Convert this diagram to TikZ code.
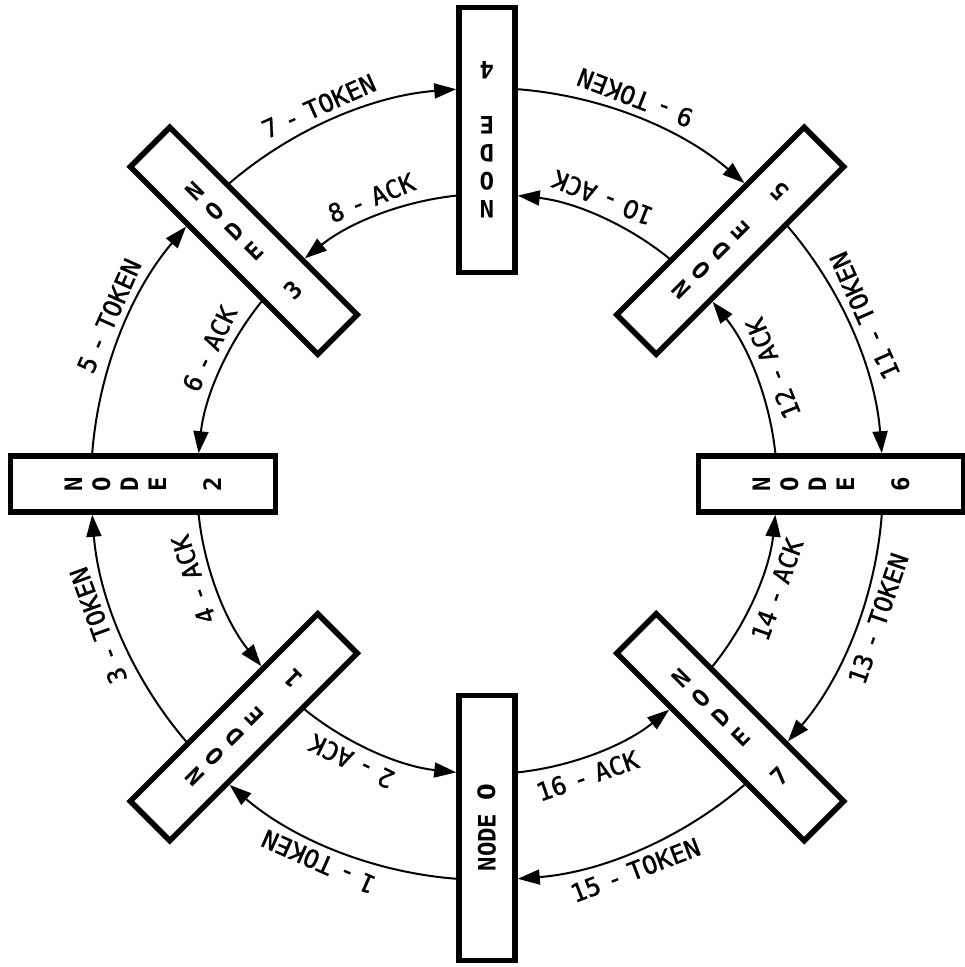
\documentclass[tikz,border=0pt]{standalone}
\usepackage{fontspec}
\newfontfamily\labfont[FakeBold=1.2]{DejaVu Sans Mono}
\newfontfamily\nodefont{DejaVu Sans Mono Bold}
\newfontfamily\lzerofont[FakeBold=1.2]{DejaVu Sans}
\newfontfamily\nzerofont{DejaVu Sans Bold}
\usetikzlibrary{arrows.meta}
\newcommand\dsh{\hspace{8pt}-\hspace{8pt}}
\newcommand\lzro{\makebox[0.602em]{\lzerofont 0}}
\newcommand\nzro{\makebox[0.602em]{\nzerofont 0}}
\begin{document}
\begin{tikzpicture}[x=1pt,y=1pt,
  nodebox/.style={draw, line width=5.5pt, minimum width=56pt, minimum height=265pt, inner sep=0pt, align=center, font=\nodefont\fontsize{24}{28}\selectfont},
  conn/.style={line width=2pt, -{Triangle[length=22pt,width=15pt]}},
  lab/.style={inner sep=0pt, font=\labfont\fontsize{25}{28}\selectfont},
  labL/.style={lab, rotate=#1-90, anchor=south},
  labR/.style={lab, rotate=#1+90, anchor=north}]
\useasboundingbox (-487,-483) rectangle (478,484);
% nodes
\node[nodebox, rotate=90, minimum width=265pt, minimum height=56pt] (n0) at (270:344) {NODE \nzro};
\node[nodebox, rotate=135] (n1) at (225:344) {N\\O\\D\\E\\[27pt]1};
\node[nodebox, rotate=90]  (n2) at (180:344) {N\\O\\D\\E\\[27pt]2};
\node[nodebox, rotate=45]  (n3) at (135:344) {N\\O\\D\\E\\[27pt]3};
\node[nodebox, rotate=180] (n4) at (90:344)  {N\\O\\D\\E\\[27pt]4};
\node[nodebox, rotate=135] (n5) at (45:344)  {N\\O\\D\\E\\[27pt]5};
\node[nodebox, rotate=90]  (n6) at (0:344)   {N\\O\\D\\E\\[27pt]6};
\node[nodebox, rotate=45]  (n7) at (-45:344) {N\\O\\D\\E\\[27pt]7};
% connectors
\pgfmathsetmacro{\dT}{asin(30.75/396)}
\pgfmathsetmacro{\dA}{asin(30.75/290)}
\foreach \k in {0,...,7} {
  \pgfmathsetmacro{\ts}{270-45*\k-\dT}
  \pgfmathsetmacro{\te}{225-45*\k+\dT}
  \pgfmathsetmacro{\as}{225-45*\k+\dA}
  \pgfmathsetmacro{\ae}{270-45*\k-\dA}
  \coordinate (ts\k) at (\ts:396);
  \draw[conn] (ts\k) arc[start angle=\ts, end angle=\te, radius=396];
  \coordinate (as\k) at (\as:290);
  \draw[conn] (as\k) arc[start angle=\as, end angle=\ae, radius=290];
}
% labels
\node[labL=246] (l1) at (246:404) {1\dsh TOKEN};
\node[labL=244] (l2) at (244:299) {2\dsh ACK};
\node[labL=200] (l3) at (200:404) {3\dsh TOKEN};
\node[labL=198] (l4) at (198:299) {4\dsh ACK};
\node[labL=156] (l5) at (156:404) {5\dsh TOKEN};
\node[labL=154] (l6) at (154:299) {6\dsh ACK};
\node[labL=114] (l7) at (114:404) {7\dsh TOKEN};
\node[labL=112] (l8) at (112:299) {8\dsh ACK};
\node[labR=69]  (l9) at (69:404) {9\dsh TOKEN};
\node[labR=68]  (l10) at (68:299) {1\lzro\dsh ACK};
\node[labR=24]  (l11) at (24:404) {11\dsh TOKEN};
\node[labR=22]  (l12) at (22:299) {12\dsh ACK};
\node[labR=-19] (l13) at (-19:404) {13\dsh TOKEN};
\node[labR=-20] (l14) at (-20:299) {14\dsh ACK};
\node[labR=-69] (l15) at (-69:404) {15\dsh TOKEN};
\node[labR=-71] (l16) at (-71:299) {16\dsh ACK};
\end{tikzpicture}
\end{document}
